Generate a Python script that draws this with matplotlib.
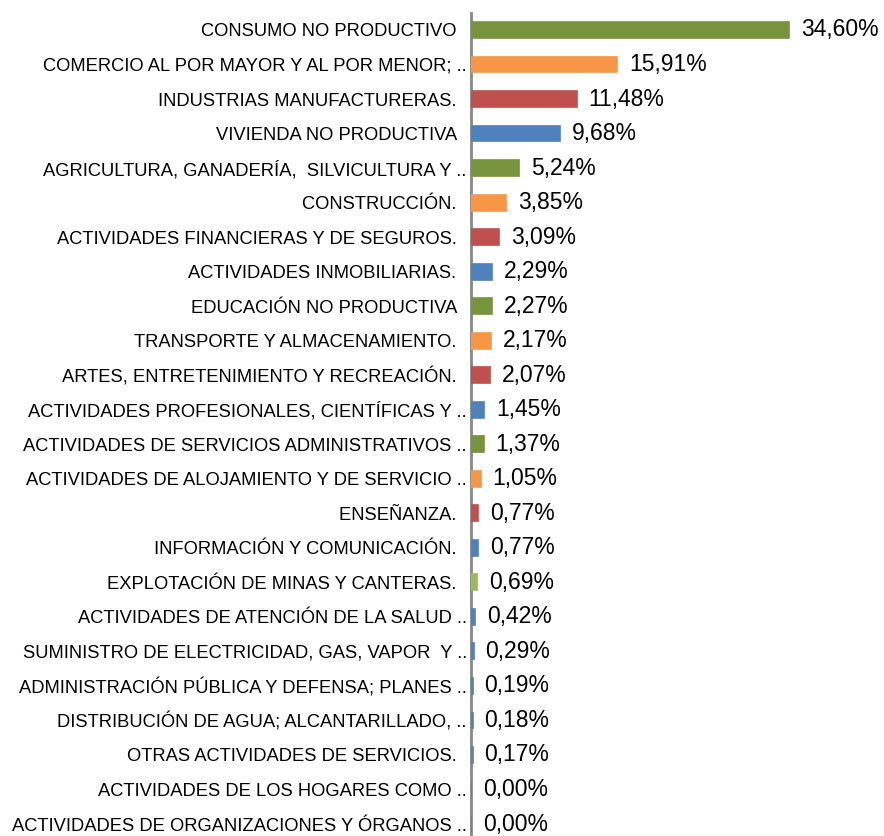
import matplotlib
matplotlib.use("Agg")
import matplotlib.pyplot as plt

categories = [
    "CONSUMO NO PRODUCTIVO",
    "COMERCIO AL POR MAYOR Y AL POR MENOR; ..",
    "INDUSTRIAS MANUFACTURERAS.",
    "VIVIENDA NO PRODUCTIVA",
    "AGRICULTURA, GANADERÍA,  SILVICULTURA Y ..",
    "CONSTRUCCIÓN.",
    "ACTIVIDADES FINANCIERAS Y DE SEGUROS.",
    "ACTIVIDADES INMOBILIARIAS.",
    "EDUCACIÓN NO PRODUCTIVA",
    "TRANSPORTE Y ALMACENAMIENTO.",
    "ARTES, ENTRETENIMIENTO Y RECREACIÓN.",
    "ACTIVIDADES PROFESIONALES, CIENTÍFICAS Y ..",
    "ACTIVIDADES DE SERVICIOS ADMINISTRATIVOS ..",
    "ACTIVIDADES DE ALOJAMIENTO Y DE SERVICIO ..",
    "ENSEÑANZA.",
    "INFORMACIÓN Y COMUNICACIÓN.",
    "EXPLOTACIÓN DE MINAS Y CANTERAS.",
    "ACTIVIDADES DE ATENCIÓN DE LA SALUD ..",
    "SUMINISTRO DE ELECTRICIDAD, GAS, VAPOR  Y ..",
    "ADMINISTRACIÓN PÚBLICA Y DEFENSA; PLANES ..",
    "DISTRIBUCIÓN DE AGUA; ALCANTARILLADO, ..",
    "OTRAS ACTIVIDADES DE SERVICIOS.",
    "ACTIVIDADES DE LOS HOGARES COMO ..",
    "ACTIVIDADES DE ORGANIZACIONES Y ÓRGANOS ..",
]
values = [34.60, 15.91, 11.48, 9.68, 5.24, 3.85, 3.09, 2.29, 2.27, 2.17, 2.07,
          1.45, 1.37, 1.05, 0.77, 0.77, 0.69, 0.42, 0.29, 0.19, 0.18, 0.17, 0.00, 0.00]

GREEN, ORANGE, RED, BLUE, LGREEN = "#77933C", "#F79646", "#C0504D", "#4F81BD", "#9BBB59"
colors = [GREEN, ORANGE, RED, BLUE] * 4 + [LGREEN] + [BLUE] * 7

plt.rcParams['font.family'] = ['Liberation Sans', 'DejaVu Sans']

W, H = 884, 836
fig = plt.figure(figsize=(W / 100, H / 100), dpi=100)
left_px, right_px = 471, 884
top_px, bottom_px = 12.7, 841.3
ax = fig.add_axes([left_px / W, 1 - bottom_px / H, (right_px - left_px) / W, (bottom_px - top_px) / H])

n = len(values)
ypos = list(range(n))
ax.barh(ypos, values, height=0.46, color=colors, edgecolor=colors, linewidth=1.2, zorder=3)
ax.set_ylim(n - 0.5, -0.5)
ax.set_xlim(0, (right_px - left_px) / 9.2)

for y, v in zip(ypos, values):
    ax.annotate(f"{v:.2f}%".replace(".", ","), (v, y), xytext=(8.5, 0), textcoords="offset points",
                va="center", ha="left", fontsize=16.5, color="black")

ax.set_yticks(ypos)
ax.set_yticklabels([c if c.endswith("..") else c + "  " for c in categories], fontsize=13.2)
ax.tick_params(axis="y", length=0, pad=3)
ax.tick_params(axis="x", bottom=False, labelbottom=False)
for s in ["top", "right", "bottom"]:
    ax.spines[s].set_visible(False)
ax.spines["left"].set_color("#888888")
ax.spines["left"].set_linewidth(2)

fig.savefig("out.png", dpi=100)
